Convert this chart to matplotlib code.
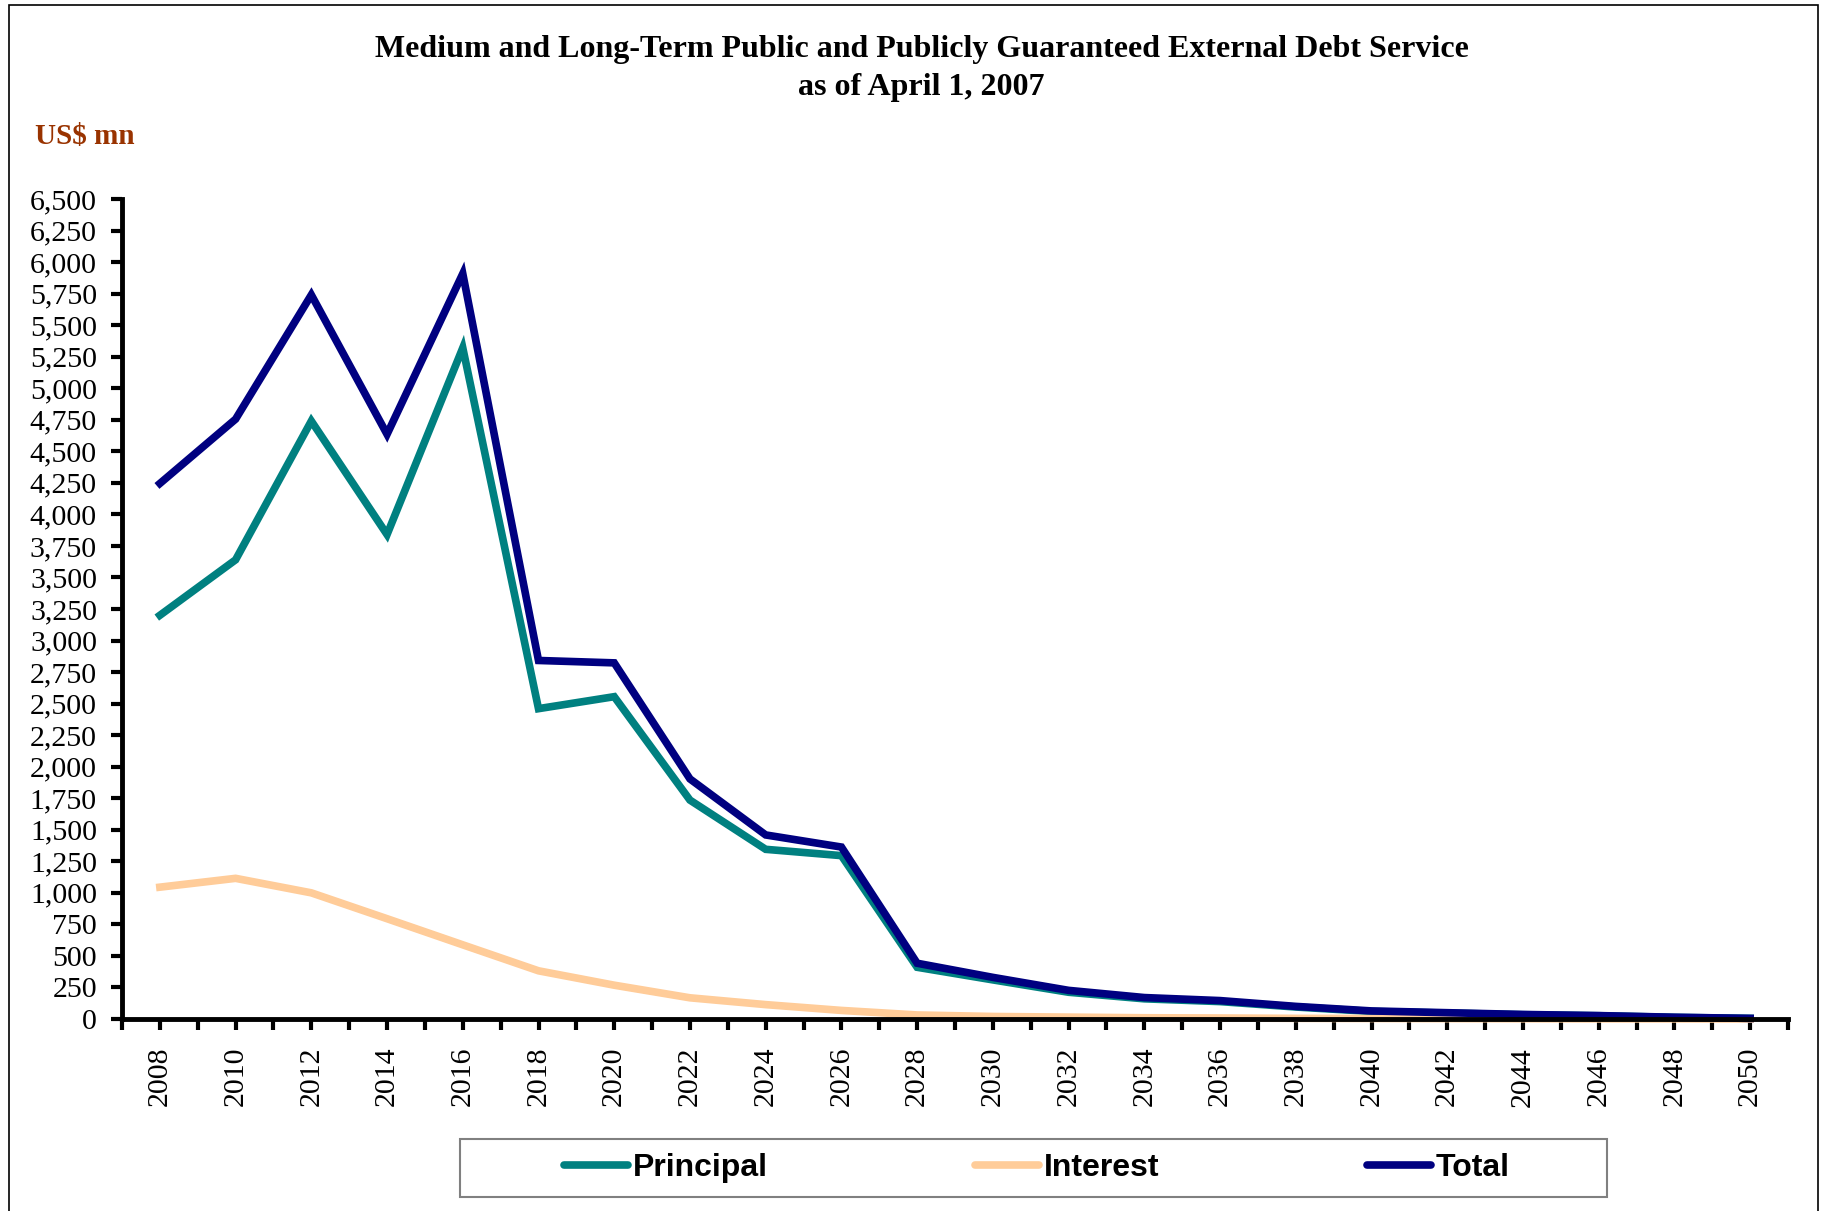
import matplotlib
matplotlib.use("Agg")
import matplotlib.pyplot as plt
from matplotlib.lines import Line2D
from matplotlib.patches import Rectangle
from matplotlib.ticker import FuncFormatter

years = list(range(2008, 2051, 2))
principal = [3200, 3640, 4740, 3840, 5320, 2460, 2555, 1735, 1345, 1295,
             410, 310, 212, 160, 138, 95, 60, 47, 34, 26, 13, 5]
interest = [1045, 1115, 1000, 795, 588, 382, 268, 168, 114, 68,
            32, 20, 15, 10, 8, 5, 4, 3, 2, 1, 1, 0]
total = [4245, 4755, 5740, 4635, 5908, 2842, 2823, 1903, 1459, 1363,
         442, 330, 227, 170, 146, 100, 64, 50, 36, 27, 14, 5]

series_names = ["Principal", "Interest", "Total"]
colors = ["#008080", "#FFCC99", "#000080"]

serif = "Liberation Serif"
sans = "Liberation Sans"

W, H = 1825, 1211
fig = plt.figure(figsize=(W / 100, H / 100), dpi=100)
ax = fig.add_axes([122 / W, 1 - 1019 / H, (1788 - 122) / W, (1019 - 199) / H])

for vals, c in zip([principal, interest, total], colors):
    ax.plot(years, vals, color=c, lw=5.5, solid_joinstyle="miter", clip_on=False)

ax.set_xlim(2007, 2051)
ax.set_ylim(0, 6500)
ax.set_yticks(range(0, 6501, 250))
ax.yaxis.set_major_formatter(FuncFormatter(lambda v, p: f"{int(v):,}"))
ax.set_xticks(years)
ax.set_xticks(range(2007, 2052, 2), minor=True)
ax.set_xticklabels([str(y) for y in years], rotation=90)

for s in ["top", "right"]:
    ax.spines[s].set_visible(False)
for s in ["left", "bottom"]:
    ax.spines[s].set_linewidth(3.5)
    ax.spines[s].set_zorder(5)

ax.tick_params(axis="y", length=8, width=3, pad=10, direction="out")
ax.tick_params(axis="x", which="both", length=8, width=3, pad=12, direction="out")
for lab in ax.get_xticklabels() + ax.get_yticklabels():
    lab.set_fontfamily(serif)
    lab.set_fontsize(21.5)

# two-line title and unit label
fig.text(0.505, 1 - 50 / H,
         "Medium and Long-Term Public and Publicly Guaranteed External Debt Service",
         ha="center", va="center", fontsize=23, fontweight="bold", family=serif)
fig.text(0.505, 1 - 87.5 / H, "as of April 1, 2007",
         ha="center", va="center", fontsize=23, fontweight="bold", family=serif)
fig.text(35 / W, 1 - 137 / H, "US$ mn", ha="left", va="center", fontsize=21,
         fontweight="bold", family=serif, color="#993300")

# legend box under the axis
fig.patches.append(Rectangle((460 / W, 1 - 1197 / H), (1607 - 460) / W, 58 / H,
                             transform=fig.transFigure, fill=False,
                             edgecolor="#808080", lw=1.5))
handles = [Line2D([], [], color=c, lw=5.5, solid_capstyle="round") for c in colors]
fig.legend(handles, series_names, ncol=3, frameon=False, loc="center",
           bbox_to_anchor=(1037 / W, 1 - 1168 / H), handlelength=2.0,
           handletextpad=0.15, columnspacing=6.5,
           prop={"family": sans, "weight": "bold", "size": 23})

# outer frame
fig.patches.append(Rectangle((9 / W, -0.01), (1818 - 9) / W, 1.01 - 5 / H,
                             transform=fig.transFigure, fill=False,
                             edgecolor="black", lw=1.2))

fig.savefig("out.png", dpi=100)
